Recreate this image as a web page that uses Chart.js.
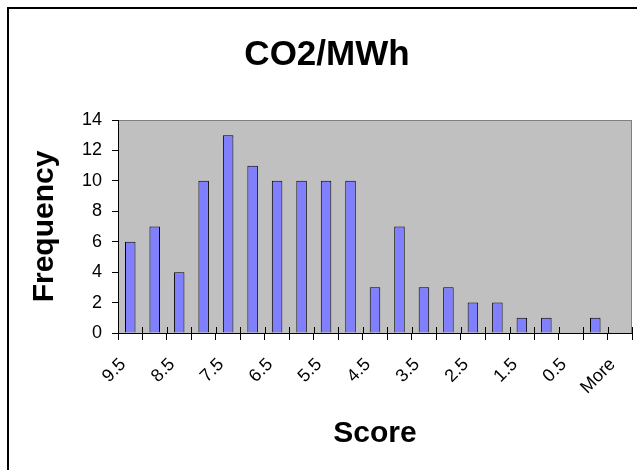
<!DOCTYPE html>
<html>
<head>
<meta charset="utf-8">
<script src="https://cdn.jsdelivr.net/npm/chart.js@4.4.0/dist/chart.umd.min.js"></script>
<style>
	html, body { margin: 0; padding: 0; background: #fff; }
	#wrap { position: relative; width: 637px; height: 470px; }
</style>
</head>
<body>
<div id="wrap"><canvas id="chartContainer1"></canvas></div>
<script>
"use strict";

// 1: data
let scores = ["9.5", "9", "8.5", "8", "7.5", "7", "6.5", "6", "5.5", "5", "4.5", "4", "3.5", "3", "2.5", "2", "1.5", "1", "0.5", "0", "More"];
let frequency = [6, 7, 4, 10, 13, 11, 10, 10, 10, 10, 3, 7, 3, 3, 2, 2, 1, 1, 0, 1, 0];
let frequencyTicks = [0, 2, 4, 6, 8, 10, 12, 14];

const FONT = "'Liberation Sans', Arial, sans-serif";

// 2: little helpers drawn around the chart
// outer frame + grey plot area like the old spreadsheet chart
const plotBackground = {
	id: 'plotBackground',
	beforeDraw(chart) {
		const ctx = chart.ctx;
		const a = chart.chartArea;
		ctx.save();
		ctx.strokeStyle = '#000';
		ctx.lineWidth = 2;
		ctx.beginPath();
		ctx.moveTo(8, 800);
		ctx.lineTo(8, 8);
		ctx.lineTo(800, 8);
		ctx.stroke();
		ctx.fillStyle = '#C0C0C0';
		ctx.fillRect(a.left, a.top, a.right - a.left, a.bottom - a.top);
		ctx.strokeStyle = '#808080';
		ctx.lineWidth = 1;
		ctx.strokeRect(a.left + 0.5, a.top + 0.5, a.right - a.left - 1, a.bottom - a.top);
		ctx.restore();
	}
};

// x tick marks cross the axis: draw the part above the line
const crossTicks = {
	id: 'crossTicks',
	afterDraw(chart) {
		const ctx = chart.ctx;
		const xs = chart.scales.x;
		const n = scores.length;
		const step = (xs.right - xs.left) / n;
		ctx.save();
		ctx.strokeStyle = '#000';
		ctx.lineWidth = 1;
		ctx.beginPath();
		for (let i = 0; i <= n; i++) {
			const x = Math.round(xs.left + i * step) + 0.5;
			ctx.moveTo(x, xs.top - 6);
			ctx.lineTo(x, xs.top);
		}
		ctx.stroke();
		ctx.restore();
	}
};

// 3: create the chart
let chart = new Chart(document.querySelector('#chartContainer1'), {
	type: 'bar',
	data: {
		labels: scores,
		datasets: [{
			label: 'Frequency',
			data: frequency,
			backgroundColor: '#8080FF',
			borderColor: '#000',
			borderWidth: 1,
			barPercentage: 0.43,
			categoryPercentage: 1
		}]
	},
	options: {
		responsive: true,
		maintainAspectRatio: false,
		animation: false,
		layout: {
			padding: { left: 22, right: 5, top: 0, bottom: 0 }
		},
		plugins: {
			legend: { display: false },
			tooltip: { enabled: false },
			title: {
				display: true,
				text: 'CO2/MWh',
				color: '#000',
				font: { family: FONT, size: 35, weight: 'bold', lineHeight: 1.2 },
				padding: { top: 34, bottom: 44 }
			}
		},
		scales: {
			x: {
				offset: true,
				border: { color: '#000', width: 1 },
				grid: {
					offset: true,
					drawOnChartArea: false,
					drawTicks: true,
					tickLength: 7,
					color: '#000'
				},
				ticks: {
					autoSkip: false,
					minRotation: 45,
					maxRotation: 45,
					padding: 7,
					color: '#000',
					font: { family: FONT, size: 18 },
					// every other score is labelled, a little set back from the tick
					callback: function (value, index) {
						return index % 2 === 0 ? scores[index] + '  ' : '';
					}
				},
				title: {
					display: true,
					text: 'Score',
					color: '#000',
					font: { family: FONT, size: 30, weight: 'bold', lineHeight: 1.2 },
					padding: { top: 0, bottom: 18 }
				},
				afterFit: function (scale) {
					scale.height = 137;
					scale.paddingLeft = 0;
					scale.paddingRight = 0;
				}
			},
			y: {
				min: 0,
				max: 14,
				border: { color: '#000', width: 1 },
				grid: {
					drawOnChartArea: false,
					drawTicks: true,
					tickLength: 6,
					color: '#000'
				},
				ticks: {
					padding: 10,
					color: '#000',
					font: { family: FONT, size: 18 }
				},
				afterBuildTicks: function (scale) {
					scale.ticks = frequencyTicks.map(v => ({ value: v }));
				},
				title: {
					display: true,
					text: 'Frequency',
					color: '#000',
					font: { family: FONT, size: 30, weight: 'bold', lineHeight: 1.2 },
					padding: { top: 5, bottom: 0 }
				},
				afterFit: function (scale) {
					scale.width = 96;
				}
			}
		}
	},
	plugins: [plotBackground, crossTicks]
});
</script>
</body>
</html>
